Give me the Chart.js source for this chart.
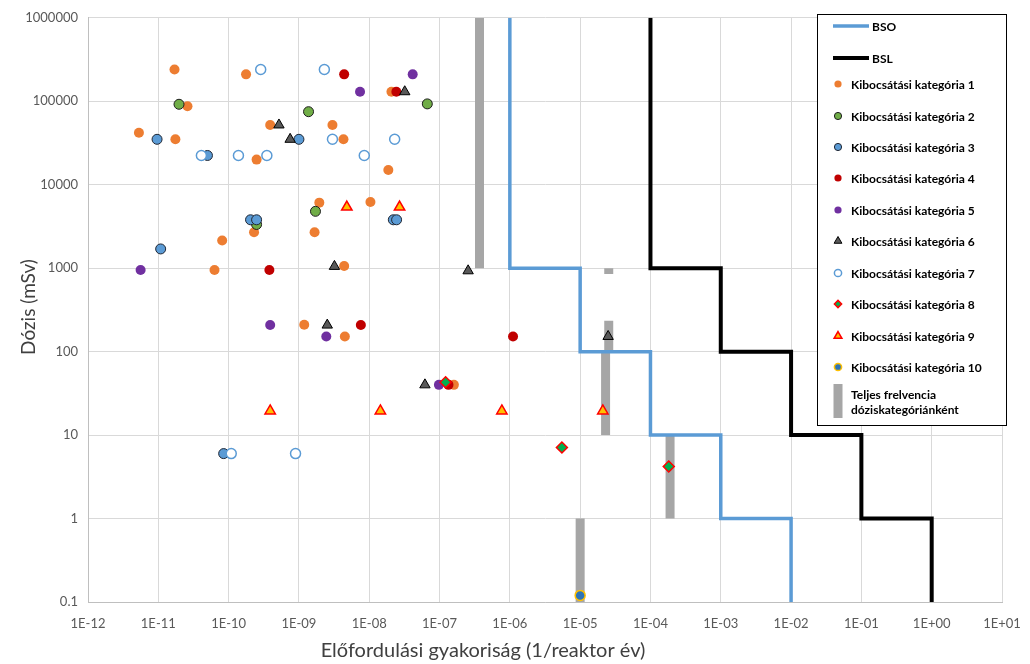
<!DOCTYPE html>
<html>
<head>
<meta charset="utf-8">
<script src="https://cdn.jsdelivr.net/npm/chart.js@4"></script>
<style>
  html, body { margin: 0; padding: 0; background: #ffffff; }
  #wrap { width: 1030px; height: 664px; }
</style>
</head>
<body>
<div id="wrap"><canvas id="chart" width="1030" height="664"></canvas></div>
<script>
"use strict";

// Tengelyek
const xTicks = [1e-12, 1e-11, 1e-10, 1e-9, 1e-8, 1e-7, 1e-6, 1e-5, 1e-4, 1e-3, 1e-2, 1e-1, 1, 10];
const xTickLabels = ["1E-12", "1E-11", "1E-10", "1E-09", "1E-08", "1E-07", "1E-06", "1E-05", "1E-04", "1E-03", "1E-02", "1E-01", "1E+00", "1E+01"];
const yTicks = [0.1, 1, 10, 100, 1000, 10000, 100000, 1000000];
const yTickLabels = ["0.1", "1", "10", "100", "1000", "10000", "100000", "1000000"];

const xTitle = "Előfordulási gyakoriság (1/reaktor év)";
const yTitle = "Dózis (mSv)";

const seriesNames = [
  "BSO", "BSL",
  "Kibocsátási kategória 1", "Kibocsátási kategória 2", "Kibocsátási kategória 3",
  "Kibocsátási kategória 4", "Kibocsátási kategória 5", "Kibocsátási kategória 6",
  "Kibocsátási kategória 7", "Kibocsátási kategória 8", "Kibocsátási kategória 9",
  "Kibocsátási kategória 10",
  "Teljes frelvencia dóziskategóriánként"
];

// Határgörbék (lépcsők)
const bsoFreq = [1e-6, 1e-6, 1e-5, 1e-5, 1e-4, 1e-4, 1e-3, 1e-3, 1e-2, 1e-2];
const bsoDose = [1e6, 1000, 1000, 100, 100, 10, 10, 1, 1, 0.1];
const bslFreq = [1e-4, 1e-4, 1e-3, 1e-3, 1e-2, 1e-2, 1e-1, 1e-1, 1, 1];
const bslDose = [1e6, 1000, 1000, 100, 100, 10, 10, 1, 1, 0.1];

// Kibocsátási kategóriák
const kat1Freq = [1.7e-11, 1.77e-10, 2.6e-11, 3.9e-10, 3.0e-9, 5.3e-12, 1.75e-11, 4.3e-9, 2.5e-10, 2.07e-8, 1.87e-8, 1.95e-9, 1.04e-8, 2.3e-10, 1.67e-9, 8.1e-11, 6.3e-11, 4.4e-9, 1.19e-9, 4.5e-9, 1.6e-7];
const kat1Dose = [240000, 210000, 87000, 52000, 52000, 42000, 35000, 35000, 20000, 130000, 15000, 6100, 6200, 2700, 2700, 2150, 950, 1060, 210, 152, 40];

const kat2Freq = [1.97e-11, 1.37e-9, 6.7e-8, 1.72e-9, 2.5e-10];
const kat2Dose = [92000, 75000, 93000, 4800, 3340];

const kat3Freq = [9.6e-12, 1e-9, 5.0e-11, 2.05e-10, 2.5e-10, 2.2e-8, 2.45e-8, 1.08e-11, 8.5e-11];
const kat3Dose = [35000, 35000, 22400, 3800, 3800, 3800, 3800, 1700, 6];

const kat4Freq = [4.4e-9, 2.43e-8, 3.8e-10, 7.6e-9, 1.11e-6, 1.34e-7];
const kat4Dose = [210000, 130000, 950, 208, 152, 40];

const kat5Freq = [7.4e-9, 4.15e-8, 5.6e-12, 3.9e-10, 2.45e-9, 9.8e-8];
const kat5Dose = [130000, 210000, 950, 208, 152, 40];

const kat6Freq = [5.2e-10, 7.5e-10, 3.2e-8, 3.2e-9, 2.55e-7, 2.53e-9, 6.2e-8, 2.5e-5];
const kat6Dose = [52000, 35000, 130000, 1050, 930, 208, 40, 152];

const kat7Freq = [2.86e-10, 2.3e-9, 3.0e-9, 2.3e-8, 4.1e-11, 1.38e-10, 3.5e-10, 8.5e-9, 1.09e-10, 8.95e-10];
const kat7Dose = [240000, 240000, 35000, 35000, 22400, 22400, 22400, 22400, 6, 6];

const kat8Freq = [1.22e-7, 5.5e-6, 1.82e-4];
const kat8Dose = [43, 7.1, 4.2];

const kat9Freq = [4.8e-9, 2.7e-8, 3.9e-10, 1.44e-8, 7.7e-7, 2.1e-5];
const kat9Dose = [5400, 5400, 19.5, 19.5, 19.5, 19.5];

const kat10Freq = [1e-5];
const kat10Dose = [0.12];

// Teljes frekvencia dóziskategóriánként (szürke sávok)
const sumFreq = [3.7e-7, 2.55e-5, 2.55e-5, 2.3e-5, 1.9e-4, 1e-5];
const sumDoseHigh = [1000000, 1000, 235, 100, 10, 1];
const sumDoseLow = [1000, 850, 100, 10, 1, 0.1];

function toPoints(xs, ys) {
  return xs.map((x, i) => ({ x: x, y: ys[i] }));
}

function barPoints() {
  const pts = [];
  sumFreq.forEach((f, i) => {
    pts.push({ x: f, y: sumDoseHigh[i] });
    pts.push({ x: f, y: sumDoseLow[i] });
    pts.push({ x: f, y: null });
  });
  return pts;
}

function stepLine(label, xs, ys, color, width, order) {
  return {
    label: label,
    data: toPoints(xs, ys),
    showLine: true,
    borderColor: color,
    backgroundColor: color,
    borderWidth: width,
    pointRadius: 0,
    tension: 0,
    order: order,
  };
}

function markers(label, xs, ys, style, fill, stroke, bw, radius, order) {
  return {
    label: label,
    data: toPoints(xs, ys),
    pointStyle: style,
    backgroundColor: fill,
    borderColor: stroke,
    pointBackgroundColor: fill,
    pointBorderColor: stroke,
    pointBorderWidth: bw,
    pointRadius: radius,
    order: order,
  };
}

const datasets = [
  stepLine(seriesNames[0], bsoFreq, bsoDose, "#5B9BD5", 3.5, 25),
  stepLine(seriesNames[1], bslFreq, bslDose, "#000000", 4, 24),
  markers(seriesNames[2], kat1Freq, kat1Dose, "circle", "#ED7D31", "#ED7D31", 0, 5, 19),
  markers(seriesNames[3], kat2Freq, kat2Dose, "circle", "#70AD47", "#1E1E1E", 1, 5, 18),
  markers(seriesNames[4], kat3Freq, kat3Dose, "circle", "#5B9BD5", "#1F2633", 1, 5, 17),
  markers(seriesNames[5], kat4Freq, kat4Dose, "circle", "#C00000", "#C00000", 0, 5, 16),
  markers(seriesNames[6], kat5Freq, kat5Dose, "circle", "#7030A0", "#7030A0", 0, 5, 15),
  markers(seriesNames[7], kat6Freq, kat6Dose, "triangle", "#595959", "#000000", 1, 6, 14),
  markers(seriesNames[8], kat7Freq, kat7Dose, "circle", "#FFFFFF", "#5B9BD5", 1.5, 5, 13),
  markers(seriesNames[9], kat8Freq, kat8Dose, "rectRot", "#00B050", "#FF0000", 1.5, 5.5, 12),
  markers(seriesNames[10], kat9Freq, kat9Dose, "triangle", "#FFC000", "#FF0000", 1.5, 6, 11),
  markers(seriesNames[11], kat10Freq, kat10Dose, "circle", "#2E75B6", "#FFC000", 1.5, 5, 10),
  {
    label: seriesNames[12],
    data: barPoints(),
    showLine: true,
    spanGaps: false,
    borderColor: "#A6A6A6",
    backgroundColor: "#A6A6A6",
    borderWidth: 9,
    borderCapStyle: "butt",
    pointRadius: 0,
    order: 30,
  },
];

// Jelmagyarázat doboz a rajzterület jobb felső sarkában
const boxLegend = {
  id: "boxLegend",
  afterDraw(chart) {
    const ctx = chart.ctx;
    const ds = chart.data.datasets;
    const bx = 817.5, by = 14.5, bw = 189, bh = 411;
    const rows = [26, 58, 84, 116, 147, 178, 210, 241, 273, 304, 336, 367];

    ctx.save();
    ctx.fillStyle = "#FFFFFF";
    ctx.fillRect(bx, by, bw, bh);
    ctx.strokeStyle = "#000000";
    ctx.lineWidth = 1;
    ctx.strokeRect(bx, by, bw, bh);

    ctx.font = "bold 12px Lato";
    ctx.textBaseline = "middle";
    ctx.textAlign = "left";

    rows.forEach((y, i) => {
      const d = ds[i];
      if (i < 2) {
        ctx.strokeStyle = d.borderColor;
        ctx.lineWidth = d.borderWidth;
        ctx.beginPath();
        ctx.moveTo(833, y);
        ctx.lineTo(869, y);
        ctx.stroke();
        ctx.fillStyle = "#000000";
        ctx.fillText(d.label, 872, y + 1);
      } else {
        ctx.fillStyle = d.pointBackgroundColor;
        ctx.strokeStyle = d.pointBorderColor;
        ctx.lineWidth = d.pointBorderWidth;
        Chart.helpers.drawPoint(ctx, {
          pointStyle: d.pointStyle,
          radius: d.pointStyle === "triangle" ? 4.5 : 3.6,
          borderWidth: d.pointBorderWidth,
          rotation: 0,
        }, 838, y);
        ctx.fillStyle = "#000000";
        ctx.fillText(d.label, 851, y + 1);
      }
    });

    const bar = ds[12];
    ctx.fillStyle = bar.borderColor;
    ctx.fillRect(833.5, 384, 9, 34);
    ctx.fillStyle = "#000000";
    const words = bar.label.split(" ");
    ctx.fillText(words.slice(0, 2).join(" "), 851, 395);
    ctx.fillText(words.slice(2).join(" "), 851, 410);
    ctx.restore();
  },
};

// Tengelyfeliratok
const axisTitles = {
  id: "axisTitles",
  afterDraw(chart) {
    const ctx = chart.ctx;
    ctx.save();
    ctx.fillStyle = "#404040";
    ctx.textAlign = "center";
    ctx.textBaseline = "middle";
    ctx.font = "20px Lato";
    ctx.fillText(xTitle, 483, 651);
    ctx.font = "19px Lato";
    ctx.translate(29, 307);
    ctx.rotate(-Math.PI / 2);
    ctx.fillText(yTitle, 0, 0);
    ctx.restore();
  },
};

new Chart(document.getElementById("chart"), {
  type: "scatter",
  data: { datasets: datasets },
  options: {
    responsive: false,
    animation: false,
    events: [],
    layout: { padding: { top: 15, right: 28, left: 0, bottom: 0 } },
    plugins: {
      legend: { display: false },
      tooltip: { enabled: false },
    },
    scales: {
      x: {
        type: "logarithmic",
        min: xTicks[0],
        max: xTicks[xTicks.length - 1],
        afterBuildTicks(axis) {
          axis.ticks = xTicks.map((v) => ({ value: v }));
        },
        afterFit(scale) {
          scale.height = 62;
          scale.paddingLeft = 0;
          scale.paddingRight = 0;
        },
        grid: { color: "#D9D9D9", drawTicks: false },
        border: { color: "#BFBFBF" },
        ticks: {
          autoSkip: false,
          maxRotation: 0,
          padding: 14,
          color: "#595959",
          font: { family: "Lato", size: 13 },
          callback(value) {
            const i = xTicks.indexOf(value);
            return i >= 0 ? xTickLabels[i] : "";
          },
        },
      },
      y: {
        type: "logarithmic",
        min: yTicks[0],
        max: yTicks[yTicks.length - 1],
        afterBuildTicks(axis) {
          axis.ticks = yTicks.map((v) => ({ value: v }));
        },
        afterFit(scale) {
          scale.width = 88;
        },
        grid: { color: "#D9D9D9", drawTicks: false },
        border: { color: "#BFBFBF" },
        ticks: {
          autoSkip: false,
          padding: 10,
          color: "#595959",
          font: { family: "Lato", size: 13 },
          callback(value) {
            const i = yTicks.indexOf(value);
            return i >= 0 ? yTickLabels[i] : "";
          },
        },
      },
    },
  },
  plugins: [boxLegend, axisTitles],
});
</script>
</body>
</html>
